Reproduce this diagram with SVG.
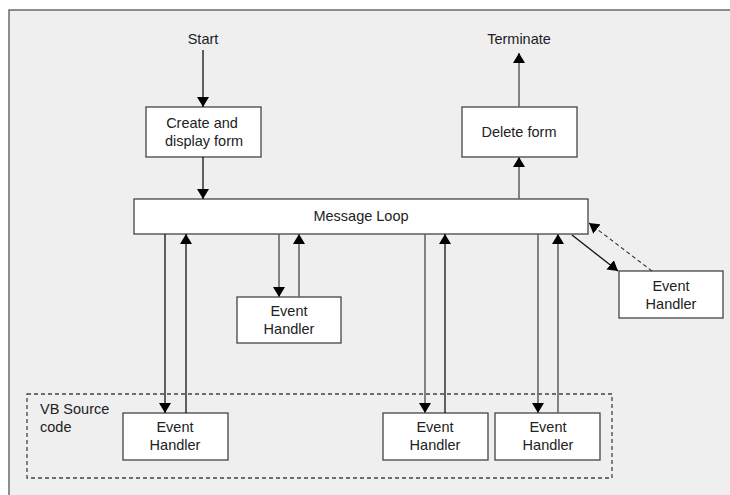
<svg xmlns="http://www.w3.org/2000/svg" width="730" height="495" viewBox="0 0 730 495">
<defs>
<style>
.box{fill:#fff;stroke:#444;stroke-width:1.3}
.t{font-family:"Liberation Sans",Arial,sans-serif;font-size:14.5px;fill:#222;text-anchor:middle}
.l{stroke:#111;stroke-width:1.3;fill:none}
.g{stroke:#666;stroke-width:1.6;fill:none}
.d{stroke:#333;stroke-width:1.1;fill:none;stroke-dasharray:4 3}
</style>
<marker id="ah" viewBox="0 0 10 12" refX="10" refY="6" markerWidth="10" markerHeight="12" markerUnits="userSpaceOnUse" orient="auto">
<path d="M0,0 L10,6 L0,12 Z" fill="#000"/>
</marker>
</defs>
<rect x="9" y="10" width="730" height="495" fill="#efefef" stroke="#555" stroke-width="1.3"/>
<g id="vbsource">
<rect x="27" y="394" width="585" height="84" fill="none" stroke="#444" stroke-width="1.3" stroke-dasharray="4 3"/>
<text class="t" x="40" y="414" style="text-anchor:start">VB Source</text>
<text class="t" x="40" y="432" style="text-anchor:start">code</text>
</g>
<g id="start"><text class="t" x="203" y="44">Start</text></g>
<g id="terminate"><text class="t" x="519" y="44">Terminate</text></g>
<g id="create"><rect class="box" x="146" y="107" width="115" height="50"/>
<text class="t" x="202" y="128">Create and</text><text class="t" x="204" y="146">display form</text></g>
<g id="delete"><rect class="box" x="462" y="107" width="115" height="50"/>
<text class="t" x="519" y="137">Delete form</text></g>
<g id="loop"><rect class="box" x="134" y="199" width="454" height="35"/>
<text class="t" x="361" y="221">Message Loop</text></g>
<g id="eh-mid"><rect class="box" x="237" y="297" width="104" height="46"/>
<text class="t" x="289" y="316">Event</text><text class="t" x="289" y="334">Handler</text></g>
<g id="eh-right"><rect class="box" x="619" y="271" width="104" height="47"/>
<text class="t" x="671" y="291">Event</text><text class="t" x="671" y="309">Handler</text></g>
<g id="eh-b1"><rect class="box" x="123" y="413" width="105" height="47"/>
<text class="t" x="175" y="432">Event</text><text class="t" x="175" y="450">Handler</text></g>
<g id="eh-b2"><rect class="box" x="383" y="413" width="105" height="47"/>
<text class="t" x="435" y="432">Event</text><text class="t" x="435" y="450">Handler</text></g>
<g id="eh-b3"><rect class="box" x="495" y="413" width="105" height="47"/>
<text class="t" x="548" y="432">Event</text><text class="t" x="548" y="450">Handler</text></g>
<g id="connectors">
<line class="l" x1="203" y1="50" x2="203" y2="107" marker-end="url(#ah)"/>
<line class="l" x1="203" y1="157" x2="203" y2="199" marker-end="url(#ah)"/>
<line class="g" x1="519" y1="199" x2="519" y2="157" marker-end="url(#ah)"/>
<line class="g" x1="519" y1="107" x2="519" y2="53" marker-end="url(#ah)"/>
<line class="l" x1="165" y1="234" x2="165" y2="413" marker-end="url(#ah)"/>
<line class="l" x1="186" y1="413" x2="186" y2="234" marker-end="url(#ah)"/>
<line class="g" x1="279" y1="234" x2="279" y2="297" marker-end="url(#ah)"/>
<line class="g" x1="299" y1="297" x2="299" y2="234" marker-end="url(#ah)"/>
<line class="g" x1="425" y1="234" x2="425" y2="413" marker-end="url(#ah)"/>
<line class="l" x1="445" y1="413" x2="445" y2="234" marker-end="url(#ah)"/>
<line class="g" x1="538" y1="234" x2="538" y2="413" marker-end="url(#ah)"/>
<line class="g" x1="558" y1="413" x2="558" y2="234" marker-end="url(#ah)"/>
<line class="l" x1="572" y1="235" x2="618" y2="271" marker-end="url(#ah)"/>
<line class="d" x1="652" y1="271" x2="589" y2="223" marker-end="url(#ah)"/>
</g>
</svg>
